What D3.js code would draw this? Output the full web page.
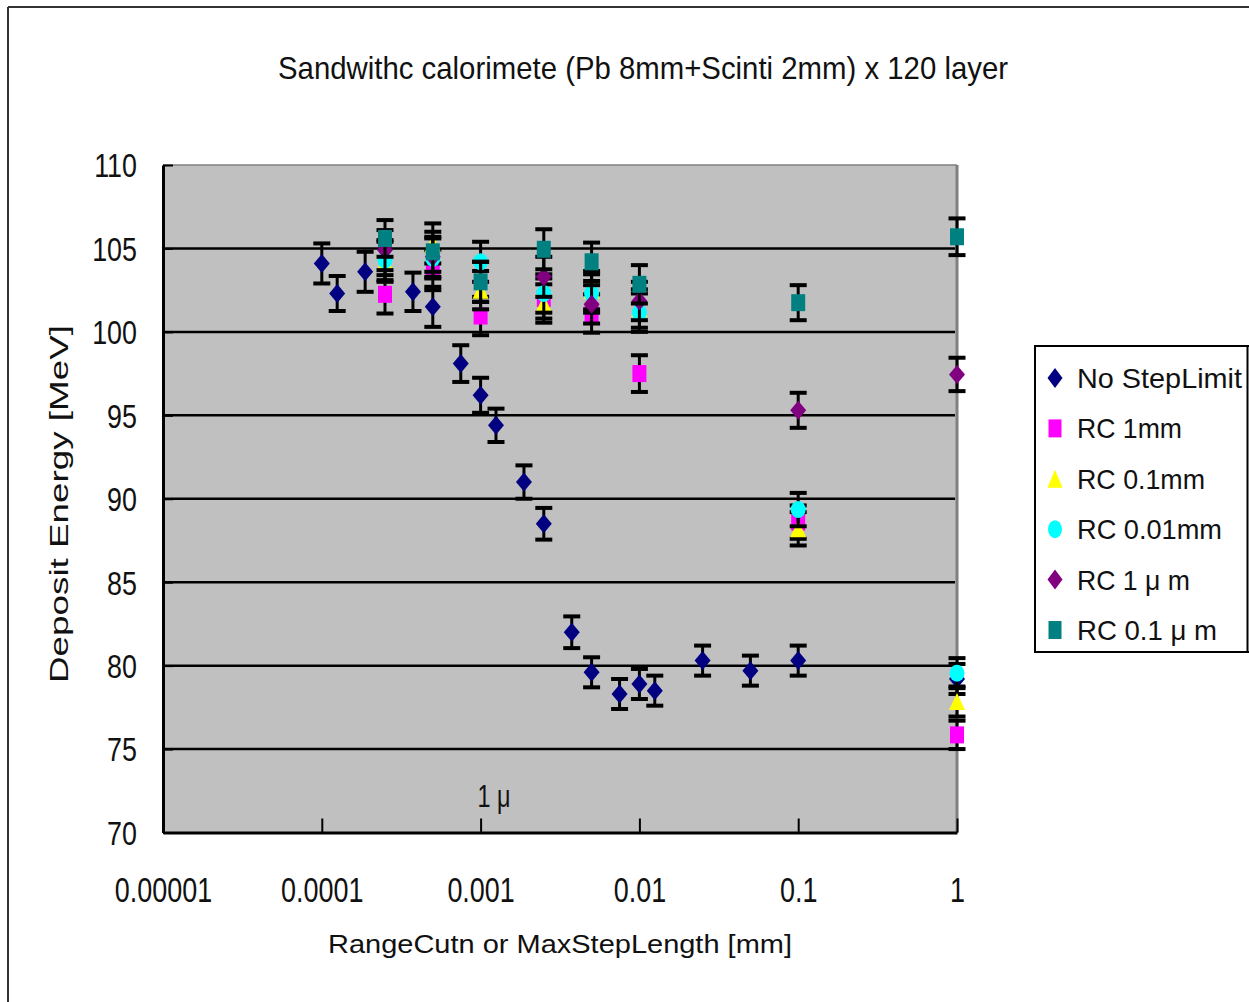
<!DOCTYPE html>
<html><head><meta charset="utf-8">
<script src="https://cdn.jsdelivr.net/npm/d3@7"></script>
<style>
body{margin:0;background:#fff}
svg{display:block}
text{font-family:"Liberation Sans",Arial,sans-serif;fill:#111}
</style>
</head><body>
<svg id="c" width="1249" height="1002"></svg>
<script>
// ---------- data ----------
const titleText = "Sandwithc calorimete (Pb 8mm+Scinti 2mm) x 120 layer";
const xTitle = "RangeCutn or MaxStepLength [mm]";
const yTitle = "Deposit Energy [MeV]";
const annotationText = "1 μ";
const annotationX = 0.001;
const annotationY = 71.5;

const xTickValues = [0.00001, 0.0001, 0.001, 0.01, 0.1, 1];
const xTickLabels = ["0.00001", "0.0001", "0.001", "0.01", "0.1", "1"];
const yTickValues = [70, 75, 80, 85, 90, 95, 100, 105, 110];
const yTickLabels = ["70", "75", "80", "85", "90", "95", "100", "105", "110"];

const seriesNames = ["No StepLimit", "RC 1mm", "RC 0.1mm", "RC 0.01mm", "RC 1 μ m", "RC 0.1 μ m"];

const nslX   = [0.0001, 0.000125, 0.0001875, 0.000375, 0.0005, 0.00075, 0.001, 0.00125, 0.001875, 0.0025, 0.00375, 0.005, 0.0075, 0.01, 0.0125, 0.025, 0.05, 0.1, 1];
const nslY   = [104.1, 102.3, 103.6, 102.4, 101.5, 98.1, 96.2, 94.4, 91.0, 88.5, 82.0, 79.6, 78.3, 78.9, 78.5, 80.3, 79.7, 80.3, 79.2];
const nslErr = [1.2, 1.05, 1.2, 1.15, 1.2, 1.1, 1.05, 1.0, 1.0, 0.95, 0.95, 0.9, 0.9, 0.9, 0.9, 0.9, 0.9, 0.9, 0.9];

const rcX = [0.00025, 0.0005, 0.001, 0.0025, 0.005, 0.01, 0.1, 1];
const rc1mmY    = [102.25, 103.7, 100.95, 102.0, 101.1, 97.5, 88.6, 75.85];
const rc1mmErr  = [1.15, 1.2, 1.15, 1.2, 1.15, 1.1, 1.0, 0.85];
const rc01mmY   = [104.2, 105.3, 102.5, 101.7, 102.5, 101.4, 88.2, 77.85];
const rc01mmErr = [1.2, 1.2, 1.15, 1.15, 1.15, 1.15, 1.0, 0.9];
const rc001mmY  = [104.3, 104.4, 104.2, 102.3, 102.3, 101.15, 89.35, 79.55];
const rc001mmErr= [1.2, 1.2, 1.2, 1.15, 1.15, 1.15, 1.0, 0.9];
const rc1umY    = [104.9, 104.5, 103.0, 103.3, 101.65, 101.85, 95.3, 97.45];
const rc1umErr  = [1.2, 1.2, 1.2, 1.2, 1.15, 1.15, 1.05, 1.0];
const rc01umY   = [105.6, 104.8, 103.0, 104.95, 104.2, 102.85, 101.75, 105.7];
const rc01umErr = [1.1, 1.2, 1.2, 1.2, 1.15, 1.15, 1.05, 1.1];

// ---------- styles ----------
const seriesStyle = [
  {color: "#000080", shape: "diamond"},
  {color: "#ff00ff", shape: "square"},
  {color: "#ffff00", shape: "triangle"},
  {color: "#00ffff", shape: "circle"},
  {color: "#800080", shape: "diamond"},
  {color: "#008080", shape: "square"}
];
const seriesData = [
  {x: nslX, y: nslY, e: nslErr},
  {x: rcX, y: rc1mmY, e: rc1mmErr},
  {x: rcX, y: rc01mmY, e: rc01mmErr},
  {x: rcX, y: rc001mmY, e: rc001mmErr},
  {x: rcX, y: rc1umY, e: rc1umErr},
  {x: rcX, y: rc01umY, e: rc01umErr}
];

const svg = d3.select("#c");
const L = 163, R = 957, T = 165, B = 832.5;
const x = d3.scaleLog().domain([0.00001, 1]).range([L, R]);
const y = d3.scaleLinear().domain([70, 110]).range([B, T]);

function squeeze(sel, k) {
  sel.each(function() {
    const len = this.getComputedTextLength();
    d3.select(this).attr("textLength", len * k).attr("lengthAdjust", "spacingAndGlyphs");
  });
}
function fitWidth(sel, w) {
  sel.attr("textLength", w).attr("lengthAdjust", "spacingAndGlyphs");
}

function shapePath(shape, w, h) {
  const p = d3.path();
  const a = w / 2, b = h / 2;
  if (shape === "diamond") {
    p.moveTo(0, -b); p.lineTo(a, 0); p.lineTo(0, b); p.lineTo(-a, 0); p.closePath();
  } else if (shape === "square") {
    p.rect(-a, -b, w, h);
  } else if (shape === "triangle") {
    p.moveTo(0, -b); p.lineTo(a, b); p.lineTo(-a, b); p.closePath();
  } else {
    // rounded octagon-ish ellipse
    const n = 16;
    for (let i = 0; i < n; i++) {
      const t = (i / n) * 2 * Math.PI;
      const px = a * Math.cos(t), py = b * Math.sin(t);
      if (i === 0) p.moveTo(px, py); else p.lineTo(px, py);
    }
    p.closePath();
  }
  return p.toString();
}
const markerSize = {diamond: [16, 19], square: [14, 17], triangle: [16, 17], circle: [15, 17]};

// outer frame
svg.append("line").attr("x1", 8).attr("x2", 8).attr("y1", 7).attr("y2", 1002).attr("stroke", "#333").attr("stroke-width", 2);
svg.append("line").attr("x1", 8).attr("x2", 1249).attr("y1", 7).attr("y2", 7).attr("stroke", "#333").attr("stroke-width", 2);

// plot area
svg.append("rect").attr("x", L).attr("y", T).attr("width", R - L).attr("height", B - T).attr("fill", "#c0c0c0");
svg.append("line").attr("x1", L).attr("x2", R).attr("y1", T).attr("y2", T).attr("stroke", "#808080").attr("stroke-width", 1.5);
svg.append("line").attr("x1", R).attr("x2", R).attr("y1", T).attr("y2", B).attr("stroke", "#808080").attr("stroke-width", 3);

// gridlines
svg.append("g").selectAll("line").data(yTickValues.filter(v => v > 70 && v < 110)).join("line")
  .attr("x1", L).attr("x2", R - 2).attr("y1", d => y(d)).attr("y2", d => y(d))
  .attr("stroke", "#000").attr("stroke-width", 2.5);

// y axis
const yAxis = svg.append("g").attr("transform", `translate(${L},0)`)
  .call(d3.axisLeft(y).tickValues(yTickValues).tickFormat((d, i) => yTickLabels[i]).tickSizeInner(-10).tickSizeOuter(0).tickPadding(26));
yAxis.select(".domain").attr("stroke", "#000").attr("stroke-width", 3);
yAxis.selectAll(".tick line").attr("stroke", "#000").attr("stroke-width", 2);
yAxis.selectAll(".tick text").attr("font-size", 34).attr("fill", "#111").attr("font-family", "Liberation Sans, Arial, sans-serif").attr("dy", "0.35em");
squeeze(yAxis.selectAll(".tick text"), 0.79);

// x axis
const xAxis = svg.append("g").attr("transform", `translate(0,${B})`)
  .call(d3.axisBottom(x).tickValues(xTickValues).tickFormat((d, i) => xTickLabels[i]).tickSizeInner(-14).tickSizeOuter(0));
xAxis.select(".domain").attr("stroke", "#000").attr("stroke-width", 3);
xAxis.selectAll(".tick line").attr("stroke", "#000").attr("stroke-width", 2);
xAxis.selectAll(".tick text").attr("font-size", 35).attr("fill", "#111").attr("font-family", "Liberation Sans, Arial, sans-serif").attr("y", 69).attr("dy", 0);
squeeze(xAxis.selectAll(".tick text"), 0.77);

// series
seriesData.forEach((s, si) => {
  const st = seriesStyle[si];
  const pts = s.x.map((xv, i) => ({x: xv, y: s.y[i], e: s.e[i]}));
  const g = svg.append("g");
  const eb = g.append("g").selectAll("g").data(pts).join("g");
  eb.append("line").attr("x1", d => x(d.x)).attr("x2", d => x(d.x))
    .attr("y1", d => y(d.y + d.e)).attr("y2", d => y(d.y - d.e))
    .attr("stroke", "#000").attr("stroke-width", 3);
  eb.append("line").attr("x1", d => x(d.x) - 8.5).attr("x2", d => x(d.x) + 8.5)
    .attr("y1", d => y(d.y + d.e)).attr("y2", d => y(d.y + d.e))
    .attr("stroke", "#000").attr("stroke-width", 4);
  eb.append("line").attr("x1", d => x(d.x) - 8.5).attr("x2", d => x(d.x) + 8.5)
    .attr("y1", d => y(d.y - d.e)).attr("y2", d => y(d.y - d.e))
    .attr("stroke", "#000").attr("stroke-width", 4);
  const [w, h] = markerSize[st.shape];
  g.append("g").selectAll("path").data(pts).join("path")
    .attr("d", shapePath(st.shape, w, h))
    .attr("transform", d => `translate(${x(d.x)},${y(d.y)})`)
    .attr("fill", st.color);
});

// annotation
const ann = svg.append("text").attr("x", x(annotationX) - 3).attr("y", y(annotationY))
  .attr("font-size", 32).text(annotationText);
fitWidth(ann, 33);

// title
const tt = svg.append("text").attr("x", 643).attr("y", 79).attr("text-anchor", "middle")
  .attr("font-size", 32).text(titleText);
fitWidth(tt, 730);

// axis titles
const xt = svg.append("text").attr("x", 560).attr("y", 953).attr("text-anchor", "middle")
  .attr("font-size", 25).text(xTitle);
fitWidth(xt, 464);
const yt = svg.append("text").attr("transform", "translate(68,504) rotate(-90)").attr("text-anchor", "middle")
  .attr("font-size", 25).text(yTitle);
fitWidth(yt, 358);

// legend
const legendWidths = [165, 105, 128, 145, 113, 140];
const lg = svg.append("g");
lg.append("rect").attr("x", 1035).attr("y", 346).attr("width", 1260 - 1035).attr("height", 306)
  .attr("fill", "#fff").attr("stroke", "#000").attr("stroke-width", 2);
lg.append("line").attr("x1", 1247.5).attr("x2", 1247.5).attr("y1", 346).attr("y2", 652).attr("stroke", "#000").attr("stroke-width", 2);
const ly = d3.scalePoint().domain(seriesNames).range([378, 630]);
seriesNames.forEach((n, i) => {
  const st = seriesStyle[i];
  const [w, h] = markerSize[st.shape];
  lg.append("path").attr("d", shapePath(st.shape, w - 1, h + 1))
    .attr("transform", `translate(1055,${ly(n)})`).attr("fill", st.color);
  const t = lg.append("text").attr("x", 1077).attr("y", ly(n) + 10).attr("font-size", 28).text(n);
  fitWidth(t, legendWidths[i]);
});
</script>
</body></html>
